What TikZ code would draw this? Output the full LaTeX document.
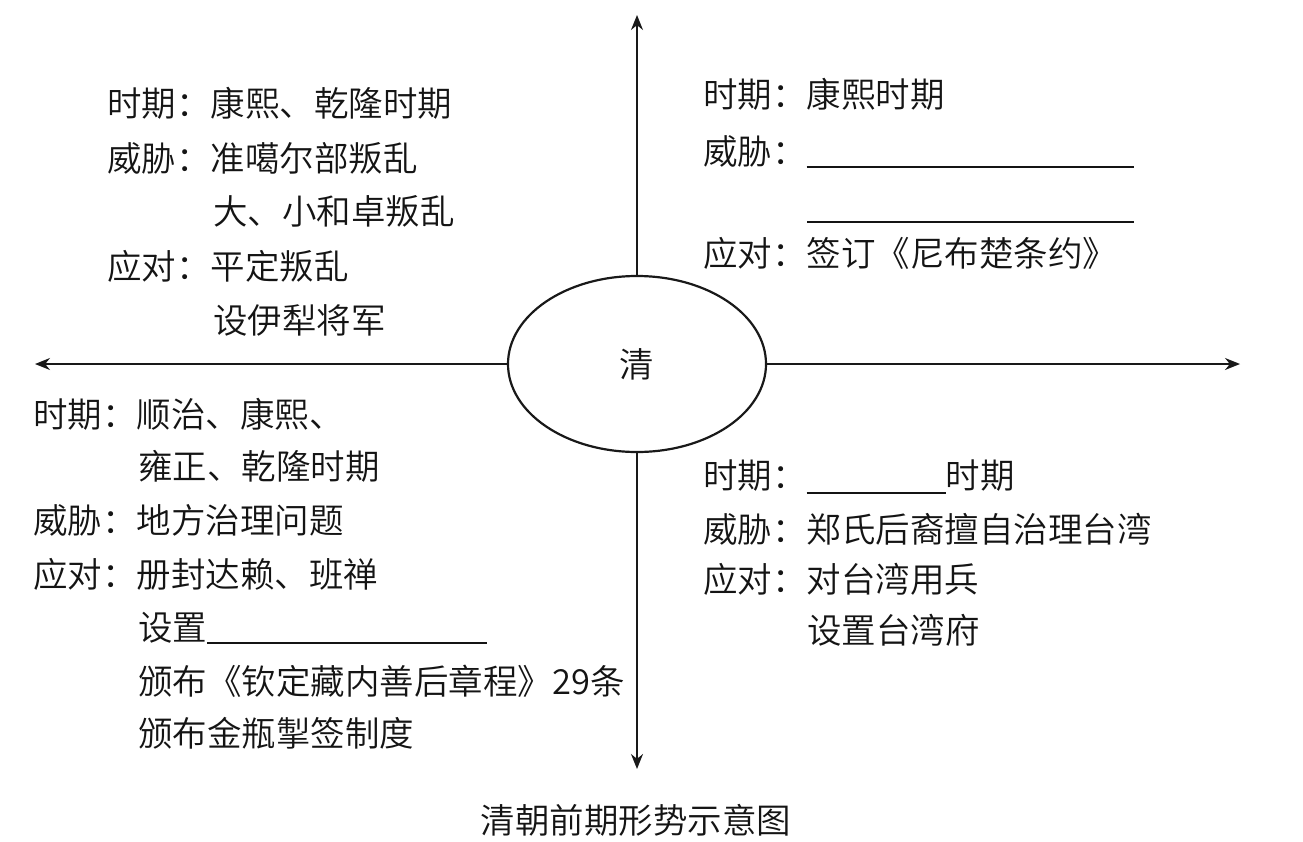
\documentclass[tikz,border=0pt]{standalone}
\usepackage{fontspec}
\newfontfamily\cjk{Noto Sans CJK SC DemiLight}
\usetikzlibrary{arrows.meta,shapes.geometric}
\begin{document}
\begin{tikzpicture}[x=1pt,y=-1pt,
  txt/.style={anchor=west,inner sep=0pt,font=\cjk\fontsize{34.5pt}{40pt}\selectfont,
    text height=0.85em,text depth=0.12em,text=black!92,yshift=-8pt},
  axis/.style={line width=1.8pt,draw=black!90,-{Stealth[length=15pt,width=12pt]}},
]
\path[use as bounding box] (0,0) rectangle (1303,841);

% centre
\node[ellipse,draw=black!90,line width=2.2pt,minimum width=258pt,minimum height=176pt,
  inner sep=0pt,font=\cjk\fontsize{34.5pt}{40pt}\selectfont,text=black!92] (qing) at (637,364) {清};

\coordinate (N) at (637,15);
\coordinate (S) at (637,769);
\coordinate (W) at (35,364);
\coordinate (E) at (1240,364);
\draw[axis] (qing.north) -- (N);
\draw[axis] (qing.south) -- (S);
\draw[axis] (qing.west) -- (W);
\draw[axis] (qing.east) -- (E);

% top left
\node[txt] (tl1) at (107,105) {时期：康熙、乾隆时期};
\node[txt] (tl2) at (107,160) {威胁：准噶尔部叛乱};
\node[txt] (tl3) at (213,213) {大、小和卓叛乱};
\node[txt] (tl4) at (107,268) {应对：平定叛乱};
\node[txt] (tl5) at (213,322) {设伊犁将军};

% top right
\node[txt] (tr1) at (703,96) {时期：康熙时期};
\node[txt] (tr2) at (703,153) {威胁：\rule[-3pt]{327pt}{1.3pt}};
\node[txt] (tr3) at (807,208) {\rule[-3pt]{327pt}{1.3pt}};
\node[txt] (tr4) at (703,255) {应对：签订《尼布楚条约》};

% bottom right
\node[txt] (br1) at (703,477) {时期：\rule[-5pt]{139pt}{1.3pt}时期};
\node[txt] (br2) at (703,531) {威胁：郑氏后裔擅自治理台湾};
\node[txt] (br3) at (703,581) {应对：对台湾用兵};
\node[txt] (br4) at (807,632) {设置台湾府};

% bottom left
\node[txt] (bl1) at (33,416) {时期：顺治、康熙、};
\node[txt] (bl2) at (138,468) {雍正、乾隆时期};
\node[txt] (bl3) at (33,522) {威胁：地方治理问题};
\node[txt] (bl4) at (33,576) {应对：册封达赖、班禅};
\node[txt] (bl5) at (138,629) {设置\rule[-3pt]{280pt}{1.3pt}};
\node[txt] (bl6) at (138,683) {颁布《钦定藏内善后章程》29条};
\node[txt] (bl7) at (138,735) {颁布金瓶掣签制度};

% caption
\node[txt,anchor=center] (cap) at (636,822) {清朝前期形势示意图};
\end{tikzpicture}
\end{document}
